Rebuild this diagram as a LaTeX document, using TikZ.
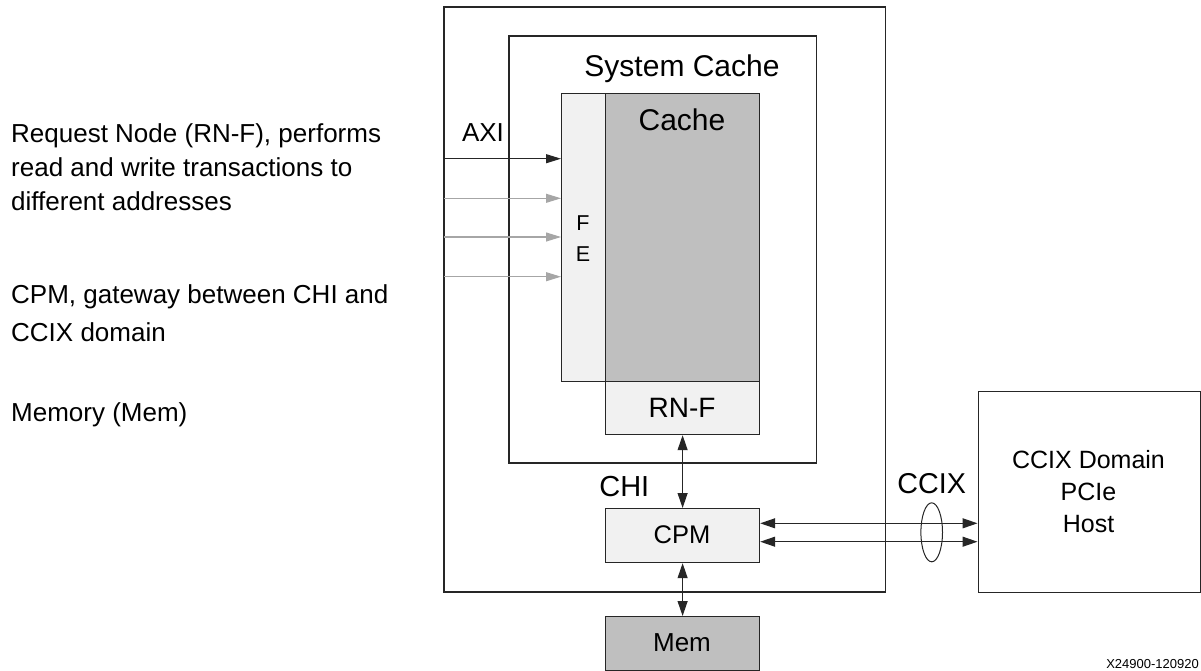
\documentclass[tikz,border=0pt]{standalone}
\usepackage{fontspec}
\setmainfont{Liberation Sans}
\usetikzlibrary{arrows.meta,shapes.geometric}
\definecolor{linec}{HTML}{262626}
\definecolor{fillgray}{HTML}{BFBFBF}
\definecolor{filllight}{HTML}{F1F1F1}
\definecolor{arrowgray}{HTML}{A6A6A6}
\tikzset{
  box/.style={draw=linec, line width=1.2pt},
  txt/.style={anchor=base, inner sep=0pt, text=black},
  lefttxt/.style={anchor=base west, inner sep=0pt, font=\fontsize{26}{31}\selectfont},
  biarrow/.style={draw=linec, line width=1.1pt, {Triangle[length=15pt,width=10pt]}-{Triangle[length=15pt,width=10pt]}},
  inarrow/.style={line width=1.1pt, -{Triangle[length=15pt,width=9pt]}},
}
\begin{document}
\begin{tikzpicture}[x=1pt, y=-1pt]
\useasboundingbox (0,0) rectangle (1201,670);

% enclosing blocks
\draw[box] (444,7) rectangle (885.5,592);
\draw[box] (509,36) rectangle (816.5,463);

% system cache internals
\node[box, fill=filllight, minimum width=44pt, minimum height=288pt, inner sep=0pt, anchor=north west] (fe) at (561,93) {};
\node[box, fill=fillgray, minimum width=154pt, minimum height=288pt, inner sep=0pt, anchor=north west] (cache) at (605,93) {};
\node[box, fill=filllight, minimum width=154pt, minimum height=53pt, inner sep=0pt, anchor=north west] (rnf) at (605,381) {};
\node[box, fill=filllight, minimum width=154pt, minimum height=54pt, inner sep=0pt, anchor=north west] (cpm) at (605,508) {};
\node[box, fill=fillgray, minimum width=154pt, minimum height=53.5pt, inner sep=0pt, anchor=north west] (mem) at (605,616) {};
\node[box, minimum width=222pt, minimum height=201pt, inner sep=0pt, anchor=north west] (host) at (977.5,391) {};

% labels inside blocks
\node[txt, font=\fontsize{30}{36}\selectfont] (tsys) at (682,76.7) {System Cache};
\node[txt, font=\fontsize{30}{36}\selectfont] (tcache) at (682,130) {Cache};
\node[txt, font=\fontsize{21.5}{26}\selectfont] (tf) at (583,230) {F};
\node[txt, font=\fontsize{21.5}{26}\selectfont] (te) at (583,261.7) {E};
\node[txt, font=\fontsize{28}{34}\selectfont] (trnf) at (682,417.3) {RN-F};
\node[txt, font=\fontsize{25.5}{30}\selectfont] (tcpm) at (682,543.3) {CPM};
\node[txt, font=\fontsize{26}{31}\selectfont] (tmem) at (682,651.7) {Mem};
\node[txt, font=\fontsize{25}{30}\selectfont] (th1) at (1088.5,468.3) {CCIX Domain};
\node[txt, font=\fontsize{25}{30}\selectfont] (th2) at (1088.5,500) {PCIe};
\node[txt, font=\fontsize{25}{30}\selectfont] (th3) at (1088.5,532.3) {Host};

% interface labels
\node[txt, font=\fontsize{26}{31}\selectfont] (taxi) at (483,141) {AXI};
\node[txt, font=\fontsize{29}{35}\selectfont] (tchi) at (624.3,496) {CHI};
\node[txt, font=\fontsize{28.7}{34}\selectfont] (tccix) at (931.7,493.3) {CCIX};

% AXI inputs into the front end
\coordinate (a0) at (444,158.7);
\coordinate (a1) at (444,198.3);
\coordinate (a2) at (444,237);
\coordinate (a3) at (444,276.7);
\draw[inarrow, draw=linec, fill=linec] (a0) -- (a0 -| fe.west);
\draw[inarrow, draw=arrowgray, fill=arrowgray] (a1) -- (a1 -| fe.west);
\draw[inarrow, draw=arrowgray, fill=arrowgray] (a2) -- (a2 -| fe.west);
\draw[inarrow, draw=arrowgray, fill=arrowgray] (a3) -- (a3 -| fe.west);

% CHI and memory links
\draw[biarrow] (rnf.south) -- (cpm.north);
\draw[biarrow] (cpm.south) -- (mem.north);

% CCIX links
\coordinate (c0) at (759,523.3);
\coordinate (c1) at (759,541.7);
\draw[biarrow] (c0 -| cpm.east) -- (c0 -| host.west);
\draw[biarrow] (c1 -| cpm.east) -- (c1 -| host.west);
\node[draw=linec, line width=1pt, ellipse, minimum width=21.6pt, minimum height=59pt, inner sep=0pt] (bundle) at (931.7,532.3) {};

% left-hand notes
\node[lefttxt] (n1) at (11,142.7) {Request Node (RN-F), performs};
\node[lefttxt] (n2) at (11,176.7) {read and write transactions to};
\node[lefttxt] (n3) at (11,210) {different addresses};
\node[lefttxt] (n4) at (11,303.3) {CPM, gateway between CHI and};
\node[lefttxt] (n5) at (11,341.7) {CCIX domain};
\node[lefttxt] (n6) at (11,421.7) {Memory (Mem)};

% figure id
\node[anchor=base east, inner sep=0pt, font=\fontsize{13}{16}\selectfont] (fid) at (1199,668.5) {X24900-120920};
\end{tikzpicture}
\end{document}
